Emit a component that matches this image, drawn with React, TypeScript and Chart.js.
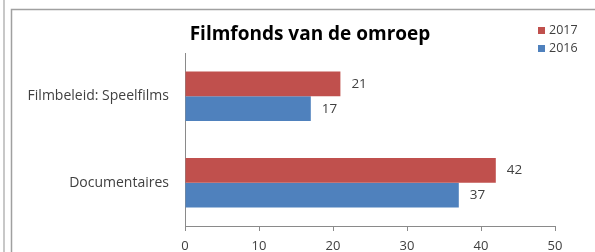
import React, { useEffect, useRef } from "react";
import { Chart, registerables } from "chart.js";

Chart.register(...registerables);

const chartTitle = "Filmfonds van de omroep";
const categories = ["Filmbeleid: Speelfilms", "Documentaires"];
const seriesLabels = ["2017", "2016"];
const values2017 = [21, 42];
const values2016 = [17, 37];
const seriesColors = ["#C0504D", "#4F81BD"];
const xTicks = [0, 10, 20, 30, 40, 50];

const FONT = "'Open Sans', 'DejaVu Sans', sans-serif";

const decorPlugin = {
  id: "decor",
  beforeDraw(chart: any) {
    const ctx = chart.ctx;
    ctx.save();
    ctx.fillStyle = "#ffffff";
    ctx.fillRect(0, 0, chart.width, chart.height);
    ctx.strokeStyle = "#c8c8c8";
    ctx.lineWidth = 2;
    ctx.beginPath();
    ctx.moveTo(4, 0);
    ctx.lineTo(4, chart.height);
    ctx.stroke();
    ctx.strokeStyle = "#a0a0a0";
    ctx.lineWidth = 1.5;
    ctx.beginPath();
    ctx.moveTo(11.5, chart.height);
    ctx.lineTo(11.5, 9.5);
    ctx.lineTo(chart.width, 9.5);
    ctx.stroke();
    ctx.restore();
  },
  afterDatasetsDraw(chart: any) {
    const ctx = chart.ctx;
    ctx.save();
    ctx.font = `13.5px ${FONT}`;
    ctx.fillStyle = "#404040";
    ctx.textAlign = "left";
    ctx.textBaseline = "middle";
    chart.data.datasets.forEach((ds: any, di: number) => {
      const meta = chart.getDatasetMeta(di);
      meta.data.forEach((bar: any, i: number) => {
        ctx.fillText(String(ds.data[i]), bar.x + 11, bar.y);
      });
    });
    ctx.font = `bold 19px ${FONT}`;
    ctx.fillStyle = "#000000";
    ctx.textAlign = "center";
    ctx.textBaseline = "alphabetic";
    ctx.fillText(chartTitle, 310, 40);
    ctx.font = `12.5px ${FONT}`;
    ctx.textAlign = "left";
    ctx.textBaseline = "middle";
    chart.data.datasets.forEach((ds: any, di: number) => {
      const y = 30 + di * 18;
      ctx.fillStyle = ds.backgroundColor;
      ctx.fillRect(538, y - 3, 7, 7);
      ctx.fillStyle = "#404040";
      ctx.fillText(ds.label, 549, y + 0.5);
    });
    ctx.restore();
  },
};

export default function App() {
  const ref = useRef<HTMLCanvasElement | null>(null);
  useEffect(() => {
    if (!ref.current) return;
    const chart = new Chart(ref.current, {
      type: "bar",
      data: {
        labels: categories,
        datasets: [
          {
            label: seriesLabels[0],
            data: values2017,
            backgroundColor: seriesColors[0],
            categoryPercentage: 0.575,
            barPercentage: 1,
          },
          {
            label: seriesLabels[1],
            data: values2016,
            backgroundColor: seriesColors[1],
            categoryPercentage: 0.575,
            barPercentage: 1,
          },
        ],
      },
      options: {
        indexAxis: "y",
        animation: false,
        responsive: false,
        maintainAspectRatio: false,
        layout: { padding: { left: 0, right: 40, top: 53, bottom: 0 } },
        plugins: {
          legend: { display: false },
          title: { display: false },
          tooltip: { enabled: false },
        },
        scales: {
          x: {
            min: xTicks[0],
            max: xTicks[xTicks.length - 1],
            afterBuildTicks: (scale: any) => {
              scale.ticks = xTicks.map((v) => ({ value: v }));
            },
            afterFit: (scale: any) => {
              scale.height = 26;
            },
            grid: {
              display: true,
              drawOnChartArea: false,
              drawTicks: true,
              tickLength: 5,
              color: "#8a8a8a",
            },
            border: { display: true, color: "#8a8a8a" },
            ticks: {
              color: "#404040",
              font: { family: FONT, size: 13 },
              padding: 7,
            },
          },
          y: {
            afterFit: (scale: any) => {
              scale.width = 185;
            },
            grid: { display: false, drawTicks: false },
            border: { display: true, color: "#8a8a8a" },
            ticks: {
              color: "#404040",
              font: { family: FONT, size: 14 },
              padding: 16,
            },
          },
        },
      },
      plugins: [decorPlugin],
    });
    return () => chart.destroy();
  }, []);
  return (
    <div style={{ position: "fixed", left: 0, top: 0, width: 595, height: 252 }}>
      <canvas ref={ref} width={595} height={252} style={{ display: "block" }} />
    </div>
  );
}
